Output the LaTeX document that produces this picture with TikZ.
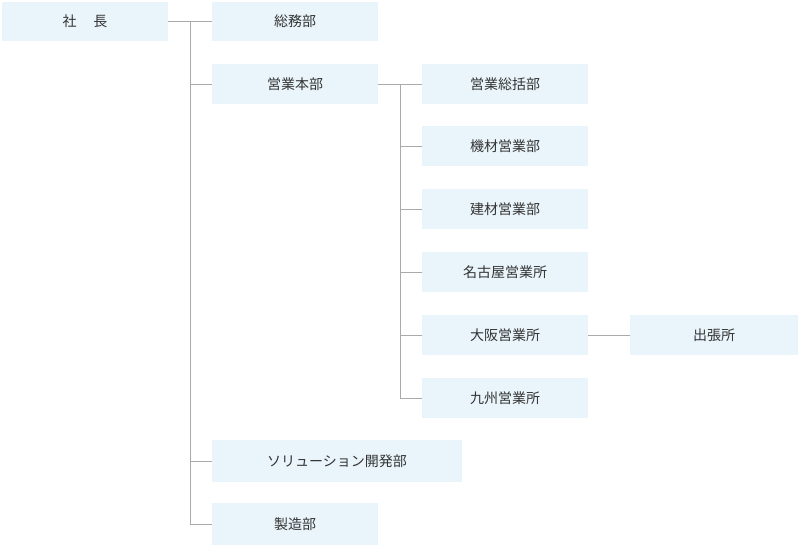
\documentclass[tikz,border=0pt]{standalone}
\usepackage{fontspec}
\setmainfont{Noto Sans CJK JP}
\definecolor{boxfill}{HTML}{EAF5FB}
\definecolor{linec}{HTML}{AAAAAA}
\definecolor{txt}{HTML}{333333}
\begin{document}
\begin{tikzpicture}[x=1pt,y=-1pt,
  bx/.style={fill=boxfill,draw=none,inner sep=0pt,text=txt,font=\fontsize{14}{16}\selectfont},
  ln/.style={draw=linec,line width=0.8pt}]
\useasboundingbox (0,0) rectangle (800,546);
\newcommand\mybox[6]{\node[bx,minimum width=#4-#2,minimum height=#5-#3] (#1) at ({(#2+#4)/2},{(#3+#5)/2}) {#6};}
\mybox{ceo}{2}{2}{168}{41}{社\hspace{1.2em}長}
\mybox{soumu}{212}{2}{378}{41}{総務部}
\mybox{eigyo}{212}{64}{378}{104}{営業本部}
\mybox{sokatsu}{422}{64}{588}{104}{営業総括部}
\mybox{kizai}{422}{126}{588}{166}{機材営業部}
\mybox{kenzai}{422}{189}{588}{229}{建材営業部}
\mybox{nagoya}{422}{252}{588}{292}{名古屋営業所}
\mybox{osaka}{422}{315}{588}{355}{大阪営業所}
\mybox{shutcho}{630}{315}{798}{355}{出張所}
\mybox{kyushu}{422}{378}{588}{418}{九州営業所}
\mybox{sol}{212}{440}{462}{482}{ソリューション開発部}
\mybox{seizo}{212}{503}{378}{545}{製造部}
\coordinate (v1) at (190,21);
\coordinate (v2) at (400,84);
\draw[ln] (ceo.east) -- (soumu.west);
\draw[ln] (v1) |- (seizo.west);
\foreach \n in {eigyo,sol} \draw[ln] (v1) |- (\n.west);
\draw[ln] (eigyo.east) -- (sokatsu.west);
\draw[ln] (v2) |- (kyushu.west);
\foreach \n in {kizai,kenzai,nagoya,osaka} \draw[ln] (v2) |- (\n.west);
\draw[ln] (osaka.east) -- (shutcho.west);
\end{tikzpicture}
\end{document}
